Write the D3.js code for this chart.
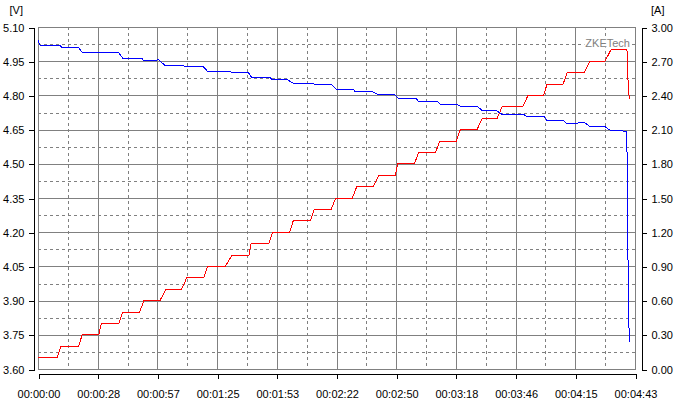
<!DOCTYPE html>
<html><head><meta charset="utf-8">
<script src="https://cdn.jsdelivr.net/npm/d3@7"></script>
<style>
html,body{margin:0;padding:0;background:#fff;}
svg{display:block;font-family:"Liberation Sans",Arial,sans-serif;}
</style></head>
<body><svg id="c" width="675" height="401"></svg>
<script>
// ---- data ----
const timeTickSeconds = [0, 28.3, 56.6, 84.9, 113.2, 141.5, 169.8, 198.1, 226.4, 254.7, 283];
const timeTickLabels = ["00:00:00","00:00:28","00:00:57","00:01:25","00:01:53","00:02:22","00:02:50","00:03:18","00:03:46","00:04:15","00:04:43"];
const voltTicks = [3.60,3.75,3.90,4.05,4.20,4.35,4.50,4.65,4.80,4.95,5.10];
const ampTicks = [0.00,0.30,0.60,0.90,1.20,1.50,1.80,2.10,2.40,2.70,3.00];
const voltUnit = "[V]";
const ampUnit = "[A]";
const watermark = "ZKETech";

// voltage series: time (s), volts
const voltTime = [0,0.9,10.1,11.2,19.1,20.9,38.1,40.2,49.4,49.9,56.3,56.9,60.2,68.9,69.7,78.4,80.3,91.0,91.8,99.7,101.3,110.0,110.8,117.9,121.0,130.5,131.3,139.2,141.3,149.5,150.3,154.2,155.5,158.2,161.3,169.2,170.8,179.2,180.3,189.0,190.6,198.5,200.0,208.0,210.8,217.4,219.8,230.1,231.7,239.9,241.1,249.0,250.6,255.5,256.5,259.3,261.7,268.8,271.2,279.1,279.4,279.8,280.3];
const voltValues = [5.043,5.021,5.021,5.011,5.011,4.989,4.989,4.963,4.963,4.954,4.954,4.958,4.932,4.932,4.926,4.926,4.906,4.906,4.900,4.900,4.879,4.879,4.871,4.871,4.853,4.853,4.846,4.846,4.828,4.827,4.816,4.816,4.819,4.819,4.802,4.802,4.787,4.787,4.775,4.775,4.762,4.762,4.753,4.753,4.732,4.732,4.718,4.718,4.707,4.707,4.692,4.692,4.677,4.677,4.680,4.680,4.663,4.663,4.647,4.643,4.407,3.947,3.720];

// current series: time (s), amps
const ampTime = [0,9.0,10.9,19.3,20.9,28.8,30.0,38.4,40.1,48.2,50.2,57.8,60.7,68.1,70.5,78.5,80.4,88.8,92.0,100.0,101.0,109.4,111.3,119.3,121.0,129.1,131.0,139.0,141.1,149.0,151.1,158.9,161.6,169.4,170.5,178.4,180.5,188.5,190.4,198.3,200.2,208.1,210.6,217.7,220.0,229.8,232.3,239.7,241.3,248.9,250.9,259.0,261.7,268.8,271.6,279.2,279.8,280.3];
const ampValues = [0.10,0.10,0.20,0.20,0.30,0.30,0.40,0.40,0.50,0.50,0.60,0.60,0.70,0.70,0.80,0.80,0.90,0.90,1.00,1.00,1.10,1.10,1.20,1.20,1.30,1.30,1.40,1.40,1.50,1.50,1.60,1.60,1.70,1.70,1.80,1.80,1.90,1.90,2.00,2.00,2.10,2.10,2.20,2.20,2.30,2.30,2.40,2.40,2.50,2.50,2.60,2.60,2.70,2.70,2.80,2.80,2.48,2.37];

// ---- layout ----
const L = 38, R = 635, T = 27, B = 369;
const svg = d3.select("#c");
const x = d3.scaleLinear().domain([0,283]).range([L,R]);
const yV = d3.scaleLinear().domain([3.6,5.1]).range([B,T]);
const yA = d3.scaleLinear().domain([0,3]).range([B,T]);
const gridCol = "#808080";
const fs = "11px";

const grid = svg.append("g").attr("shape-rendering","crispEdges");
// dashed minor lines (midpoints)
const midT = d3.pairs(timeTickSeconds).map(p => (p[0]+p[1])/2);
const midV = d3.pairs(voltTicks).map(p => (p[0]+p[1])/2);
grid.selectAll(".mv").data(midT).join("line")
  .attr("x1",d=>Math.round(x(d))+0.5).attr("x2",d=>Math.round(x(d))+0.5)
  .attr("y1",T).attr("y2",B).attr("stroke",gridCol).attr("stroke-dasharray","3,3");
grid.selectAll(".mh").data(midV).join("line")
  .attr("y1",d=>Math.round(yV(d))+0.5).attr("y2",d=>Math.round(yV(d))+0.5)
  .attr("x1",L).attr("x2",R).attr("stroke",gridCol).attr("stroke-dasharray","3,3");
// solid major lines
grid.selectAll(".Mv").data(timeTickSeconds).join("line")
  .attr("x1",d=>Math.round(x(d))+0.5).attr("x2",d=>Math.round(x(d))+0.5)
  .attr("y1",T).attr("y2",B+0.5).attr("stroke",gridCol);
grid.selectAll(".Mh").data(voltTicks).join("line")
  .attr("y1",d=>Math.round(yV(d))+0.5).attr("y2",d=>Math.round(yV(d))+0.5)
  .attr("x1",L).attr("x2",R+0.5).attr("stroke",gridCol);

// watermark
const wm = svg.append("g");
const wmText = wm.append("text").attr("x",630).attr("y",46.5)
  .attr("text-anchor","end").attr("font-size",fs).attr("fill",gridCol).text(watermark);
const bb = wmText.node().getBBox();
wm.insert("rect","text").attr("x",bb.x-1).attr("y",bb.y+1).attr("width",bb.width+2).attr("height",bb.height-2).attr("fill","#fff");

// data lines
const lineV = d3.line().x(d=>x(d[0])).y(d=>yV(d[1]));
const lineA = d3.line().x(d=>x(d[0])).y(d=>yA(d[1]));
svg.append("path").datum(d3.zip(ampTime, ampValues)).attr("d",lineA)
  .attr("fill","none").attr("stroke","#ff0000").attr("stroke-width",1).attr("shape-rendering","crispEdges");
svg.append("path").datum(d3.zip(voltTime, voltValues)).attr("d",lineV)
  .attr("fill","none").attr("stroke","#0000ff").attr("stroke-width",1).attr("shape-rendering","crispEdges");

// axes
function styleAxis(g){
  g.attr("font-size",fs).attr("font-family","'Liberation Sans',Arial,sans-serif").attr("shape-rendering","crispEdges");
  g.selectAll("path,line").attr("stroke","#000");
  g.selectAll("text").attr("fill","#000");
}
svg.append("g").attr("transform","translate(33.5,0.5)")
  .call(d3.axisLeft(yV).tickValues(voltTicks).tickFormat(d3.format(".2f")).tickSizeOuter(0).tickSize(5).tickPadding(4))
  .call(styleAxis);
svg.append("g").attr("transform","translate(641.5,0.5)")
  .call(d3.axisRight(yA).tickValues(ampTicks).tickFormat(d3.format(".2f")).tickSizeOuter(0).tickSize(5).tickPadding(5))
  .call(styleAxis);
svg.append("g").attr("transform","translate(0.5,373.5)")
  .call(d3.axisBottom(x).tickValues(timeTickSeconds).tickFormat((d,i)=>timeTickLabels[i]).tickSizeOuter(0).tickSize(5).tickPadding(12))
  .call(styleAxis);

// unit labels
svg.append("text").attr("x",23).attr("y",14).attr("text-anchor","end").attr("font-size",fs).text(voltUnit);
svg.append("text").attr("x",651).attr("y",14).attr("text-anchor","start").attr("font-size",fs).text(ampUnit);
</script></body></html>
